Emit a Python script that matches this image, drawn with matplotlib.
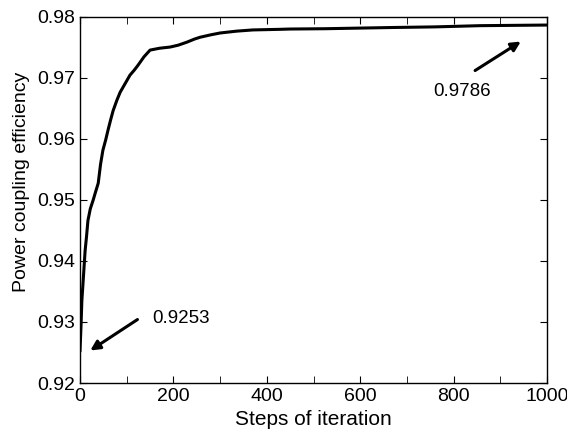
import numpy as np
import matplotlib.pyplot as plt
from matplotlib.ticker import MultipleLocator

plt.rcParams['font.family'] = ['Liberation Sans', 'DejaVu Sans']

steps = [0, 2, 4, 7, 11, 14, 17, 22, 28, 33, 39, 44, 49, 55, 60, 66, 71, 79, 86,
         95, 107, 116, 124, 137, 150, 170, 193, 210, 229, 245, 257, 280,
         300, 335, 370, 428, 450, 525, 670, 760, 857, 1000]
eff = [0.9253, 0.9290, 0.9335, 0.9370, 0.9417, 0.9440, 0.9466, 0.9485, 0.9499,
       0.9512, 0.9527, 0.9558, 0.9581, 0.9598, 0.9614, 0.9632, 0.9646, 0.9663,
       0.9676, 0.9688, 0.9704, 0.9712, 0.9720, 0.9734, 0.9745, 0.9748, 0.9750,
       0.9753, 0.9758, 0.9763, 0.9766, 0.9770, 0.9773, 0.9776, 0.9778, 0.9779,
       0.97795, 0.9780, 0.9782, 0.9783, 0.9785, 0.9786]

fig = plt.figure(figsize=(5.67, 4.29), dpi=100)
ax = fig.add_axes([80 / 567, 1 - 383 / 429, 467 / 567, 366.5 / 429])

ax.plot(steps, eff, color='black', lw=2.2)

ax.set_xlim(0, 1000)
ax.set_ylim(0.92, 0.98)
ax.xaxis.set_major_locator(MultipleLocator(200))
ax.xaxis.set_minor_locator(MultipleLocator(100))
ax.yaxis.set_major_locator(MultipleLocator(0.01))
ax.tick_params(which='both', direction='in', top=True, right=True, labelsize=14)
ax.tick_params(which='both', length=5)
for s in ax.spines.values():
    s.set_linewidth(1.0)

ax.set_xlabel('Steps of iteration', fontsize=15, labelpad=4)
ax.set_ylabel('Power coupling efficiency', fontsize=14)
ax.yaxis.set_label_coords(-0.108, 0.548)

ax.annotate('', xy=(17, 0.92507), xytext=(128, 0.93064),
            arrowprops=dict(arrowstyle='-|>', color='black', lw=2.2, mutation_scale=14))
ax.text(154, 0.9306, '0.9253', fontsize=13.5, va='center', ha='left')

ax.annotate('', xy=(949, 0.97615), xytext=(841, 0.97091),
            arrowprops=dict(arrowstyle='-|>', color='black', lw=2.2, mutation_scale=14))
ax.text(818, 0.96764, '0.9786', fontsize=13.5, va='center', ha='center')

fig.savefig('out.png', dpi=100)
